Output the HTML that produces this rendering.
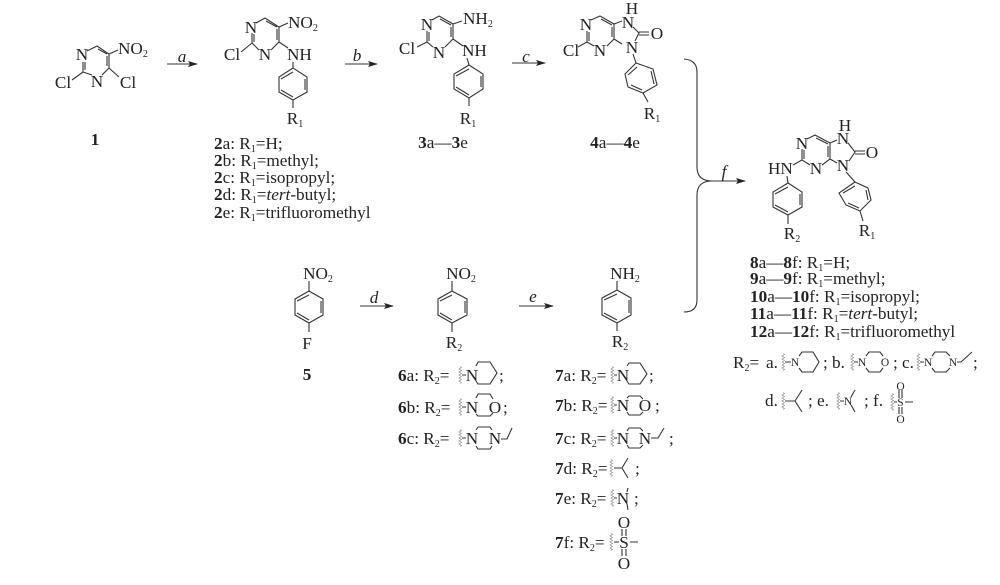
<!DOCTYPE html>
<html><head><meta charset="utf-8"><style>
html,body{margin:0;padding:0;background:#fff}
svg{display:block;filter:blur(.35px)}
text{font-family:"Liberation Serif",serif;font-size:17.2px;fill:#222}
.m{text-anchor:middle}
.b{font-weight:bold}
.s{font-size:10px}
.i{font-style:italic}
.sm{font-size:11.5px}
.l{fill:none;stroke:#333;stroke-width:1.1}
.w{fill:none;stroke:#888;stroke-width:.7}
</style></head><body>
<svg width="1000" height="585" viewBox="0 0 1000 585" xmlns="http://www.w3.org/2000/svg">
<defs>
<path id="wv" class="w" d="M0-8.500l1.500 1-2.500 1.500 2.500 1.500-2.500 1.500 2.500 1.500-2.500 1.500 2.500 1.500-2.500 1.500 2.500 1.500-2.500 1.500 2.500 1.500-1.500 1"/>
<marker id="ah" markerWidth="10" markerHeight="6" refX="9" refY="3" orient="auto" markerUnits="userSpaceOnUse"><path d="M0 0L10 3L0 6L2 3z" fill="#222"/></marker>
</defs>

<!-- compound 1 -->
<path class="l" d="M87 51L97 46L109 54V68L102 75M92 75L83 72V62M85 62V70M98 49L107 54M107 56V66M83 72L72 80M109 68L119 77M109 54L118 50"/>
<text class="m" x="82" y="60">N</text><text class="m" x="97" y="87">N</text>
<text x="118" y="54">NO<tspan class="s" dy="3">2</tspan></text>
<text class="m" x="63" y="88">Cl</text><text class="m" x="128" y="88">Cl</text>
<text class="m b" x="95" y="145">1</text>

<path class="l" d="M167 64H197" marker-end="url(#ah)"/><text class="m i" x="182" y="62">a</text>

<!-- compound 2 -->
<path class="l" d="M256 23L265 18L279 27V42L271 50M259 50L252 43V33M254 34V42M266 21L277 27M277 29V40M252 43L241 52M279 42L288 48M279 27L288 23"/>
<text class="m" x="251" y="33">N</text><text class="m" x="265" y="60">N</text>
<text x="288" y="28">NO<tspan class="s" dy="3">2</tspan></text>
<text class="m" x="232" y="60">Cl</text><text x="287" y="60">NH</text>
<path class="l" d="M293 62V68L307 77V92L293 100L279 92V77L293 68M281 79L293 72M305 79V90M281 90L293 97M293 100V108"/>
<text class="m" x="295" y="124">R<tspan class="s" dy="3">1</tspan></text>
<text x="214" y="149"><tspan class="b">2</tspan>a: R<tspan class="s" dy="3">1</tspan><tspan dy="-3">=H;</tspan></text>
<text x="214" y="166"><tspan class="b">2</tspan>b: R<tspan class="s" dy="3">1</tspan><tspan dy="-3">=methyl;</tspan></text>
<text x="214" y="183"><tspan class="b">2</tspan>c: R<tspan class="s" dy="3">1</tspan><tspan dy="-3">=isopropyl;</tspan></text>
<text x="214" y="200"><tspan class="b">2</tspan>d: R<tspan class="s" dy="3">1</tspan><tspan dy="-3">=</tspan><tspan class="i">tert</tspan>-butyl;</text>
<text x="214" y="218"><tspan class="b">2</tspan>e: R<tspan class="s" dy="3">1</tspan><tspan dy="-3">=trifluoromethyl</tspan></text>

<path class="l" d="M345 64H377" marker-end="url(#ah)"/><text class="m i" x="357" y="61">b</text>

<!-- compound 3 -->
<path class="l" d="M432 20L439 16L453 24V39L445 47M433 47L427 42V31M429 32V41M440 19L451 25M451 27V37M427 42L417 47M453 39L463 46M453 24L462 21"/>
<text class="m" x="427" y="30">N</text><text class="m" x="439" y="58">N</text>
<text x="463" y="24">NH<tspan class="s" dy="3">2</tspan></text>
<text class="m" x="407" y="54">Cl</text><text x="462" y="56">NH</text>
<path class="l" d="M467 58L469 65L483 74V89L469 98L454 89V74L469 65M456 76L469 69M481 76V87M456 87L469 95M469 98V106"/>
<text class="m" x="468" y="124">R<tspan class="s" dy="3">1</tspan></text>
<text class="m" x="443" y="148"><tspan class="b">3</tspan>a—<tspan class="b">3</tspan>e</text>

<path class="l" d="M512 63H545" marker-end="url(#ah)"/><text class="m i" x="526" y="62">c</text>

<!-- compound 4 -->
<path class="l" d="M591 20L600 16L614 24V39L607 46M594 46L587 42V31M589 32V41M601 19L612 25M612 27V37M587 42L578 47M614 24L622 21M614 39L622 44M633 27L639 33L635 41M639 32H649M639 35H649"/>
<text class="m" x="586" y="30">N</text><text class="m" x="600" y="56">N</text>
<text class="m" x="628" y="28">N</text><text class="m" x="632" y="14">H</text>
<text class="m" x="632" y="53">N</text><text class="m" x="657" y="39">O</text>
<text class="m" x="571" y="56">Cl</text>
<path class="l" d="M633 54L636 63L653 69L657 85L643 93L628 87L625 74L636 63M637 67L628 75M651 71L654 84M631 85L642 90M643 93L648 102"/>
<text class="m" x="652" y="119">R<tspan class="s" dy="3">1</tspan></text>
<text class="m" x="615" y="148"><tspan class="b">4</tspan>a—<tspan class="b">4</tspan>e</text>

<!-- brace -->
<path class="l" d="M684 59Q697 60 697 72V167Q697 181 712 181Q697 181 697 195V300Q697 312 684 312"/>
<path class="l" d="M712 181H745" marker-end="url(#ah)"/><text class="m i" x="724" y="177">f</text>

<!-- compound 8 -->
<path class="l" d="M807 139L815 135L830 143V159L822 165M810 165L802 160V149M804 150V159M816 138L828 144M828 146V157M802 160L793 165M830 143L837 140M830 159L837 163M848 143L855 152L849 161M855 151H865M855 154H865"/>
<text class="m" x="802" y="149">N</text><text class="m" x="816" y="174">N</text>
<text class="m" x="843" y="144">N</text><text class="m" x="845" y="131">H</text>
<text class="m" x="843" y="171">N</text><text class="m" x="872" y="158">O</text>
<text x="768" y="174">HN</text>
<path class="l" d="M787 176L788 183L802 192V207L788 215L773 207V192L788 183M775 194L788 187M800 194V205M775 205L788 212M788 215V224"/>
<text class="m" x="792" y="239">R<tspan class="s" dy="3">2</tspan></text>
<path class="l" d="M846 172L855 182L868 188L871 200L860 211L846 205L839 193L855 182M855 186L843 193M866 190L868 200M848 203L859 208M860 211L863 221"/>
<text class="m" x="867" y="236">R<tspan class="s" dy="3">1</tspan></text>
<text x="750" y="268"><tspan class="b">8</tspan>a—<tspan class="b">8</tspan>f: R<tspan class="s" dy="3">1</tspan><tspan dy="-3">=H;</tspan></text>
<text x="750" y="284"><tspan class="b">9</tspan>a—<tspan class="b">9</tspan>f: R<tspan class="s" dy="3">1</tspan><tspan dy="-3">=methyl;</tspan></text>
<text x="750" y="302"><tspan class="b">10</tspan>a—<tspan class="b">10</tspan>f: R<tspan class="s" dy="3">1</tspan><tspan dy="-3">=isopropyl;</tspan></text>
<text x="750" y="319"><tspan class="b">11</tspan>a—<tspan class="b">11</tspan>f: R<tspan class="s" dy="3">1</tspan><tspan dy="-3">=</tspan><tspan class="i">tert</tspan>-butyl;</text>
<text x="750" y="337"><tspan class="b">12</tspan>a—<tspan class="b">12</tspan>f: R<tspan class="s" dy="3">1</tspan><tspan dy="-3">=trifluoromethyl</tspan></text>

<!-- R2 definitions, right -->
<text x="733" y="368">R<tspan class="s" dy="3">2</tspan><tspan dy="-3">=</tspan></text>
<text x="766" y="368">a.</text>
<use href="#wv" x="783" y="362"/><path class="l" d="M785 362H791M799 356L802 352H813L819 362L813 372H802L799 368"/>
<text class="m sm" x="795" y="366">N</text>
<text x="823" y="368">;</text>
<text x="832" y="368">b.</text>
<use href="#wv" x="852" y="362"/><path class="l" d="M854 362H858M866 356L869 352H880L883 356M883 368L880 372H869L866 368"/>
<text class="m sm" x="862" y="366">N</text><text class="m sm" x="885" y="366">O</text>
<text x="893" y="368">;</text>
<text x="902" y="368">c.</text>
<use href="#wv" x="918" y="362"/><path class="l" d="M920 362H924M932 356L935 352H946L950 356M932 368L935 372H946L950 368M957 362H961L972 352"/>
<text class="m sm" x="928" y="366">N</text><text class="m sm" x="953" y="366">N</text>
<text x="973" y="368">;</text>

<text x="765" y="406">d.</text>
<use href="#wv" x="783" y="401"/><path class="l" d="M785 401H795L802 390M795 401L802 412"/>
<text x="808" y="406">;</text>
<text x="817" y="406">e.</text>
<use href="#wv" x="838" y="401"/><path class="l" d="M840 401H844M851 397L855 390M851 405L855 412"/>
<text class="m sm" x="848" y="405">N</text>
<text x="864" y="406">;</text>
<text x="873" y="406">f.</text>
<use href="#wv" x="892" y="402"/><path class="l" d="M894 402H897M899 390V398M902 390V398M899 407V414M902 407V414M905 402H913"/>
<text class="m sm" x="900.500" y="406">S</text><text class="m sm" x="900.500" y="390">O</text><text class="m sm" x="900.500" y="423">O</text>

<!-- compound 5 -->
<text class="m" x="318" y="279">NO<tspan class="s" dy="3">2</tspan></text>
<path class="l" d="M309 281V291L323 299V315L309 323L295 315V299L309 291M297 301L309 295M321 301V313M297 313L309 320M309 323V332"/>
<text class="m" x="307" y="349">F</text>
<text class="m b" x="307" y="380">5</text>
<path class="l" d="M360 306H393" marker-end="url(#ah)"/><text class="m i" x="374" y="303">d</text>

<!-- compound 6 -->
<text class="m" x="461" y="279">NO<tspan class="s" dy="3">2</tspan></text>
<path class="l" d="M452 281V291L467 299V315L452 323L438 315V299L452 291M440 301L452 295M465 301V313M440 313L452 320M452 323V332"/>
<text class="m" x="454" y="348">R<tspan class="s" dy="3">2</tspan></text>

<text x="398" y="381"><tspan class="b">6</tspan>a: R<tspan class="s" dy="3">2</tspan><tspan dy="-3">=</tspan></text>
<use href="#wv" x="460" y="375"/><path class="l" d="M462 375H466M476 366L478 362H490L497 373L490 384H478L476 381"/>
<text class="m" x="472" y="381">N</text><text x="499" y="381">;</text>

<text x="398" y="413"><tspan class="b">6</tspan>b: R<tspan class="s" dy="3">2</tspan><tspan dy="-3">=</tspan></text>
<use href="#wv" x="460" y="407"/><path class="l" d="M462 407H466M476 398L478 394H490L493 399M476 414L478 416H490L493 413"/>
<text class="m" x="472" y="413">N</text><text class="m" x="495" y="413">O</text><text x="503" y="413">;</text>

<text x="398" y="444"><tspan class="b">6</tspan>c: R<tspan class="s" dy="3">2</tspan><tspan dy="-3">=</tspan></text>
<use href="#wv" x="460" y="438"/><path class="l" d="M462 438H466M476 430L478 427H490L492 430M476 446L478 449H490L492 446M501 439H507L512 428"/>
<text class="m" x="472" y="444">N</text><text class="m" x="495" y="444">N</text>

<path class="l" d="M519 306H553" marker-end="url(#ah)"/><text class="m i" x="533" y="302">e</text>

<!-- compound 7 -->
<text class="m" x="625" y="279">NH<tspan class="s" dy="3">2</tspan></text>
<path class="l" d="M617 281V290L631 298V315L617 323L602 315V298L617 290M604 300L617 294M629 300V313M604 313L617 320M617 323V331"/>
<text class="m" x="620" y="347">R<tspan class="s" dy="3">2</tspan></text>

<text x="555" y="381"><tspan class="b">7</tspan>a: R<tspan class="s" dy="3">2</tspan><tspan dy="-3">=</tspan></text>
<use href="#wv" x="612" y="375"/><path class="l" d="M614 375H617M627 366L629 363H640L647 374L640 384H629L627 381"/>
<text class="m" x="623" y="381">N</text><text x="649" y="381">;</text>

<text x="555" y="411"><tspan class="b">7</tspan>b: R<tspan class="s" dy="3">2</tspan><tspan dy="-3">=</tspan></text>
<use href="#wv" x="612" y="405"/><path class="l" d="M614 405H617M627 398L629 396H640L643 399M627 412L629 415H640L643 412"/>
<text class="m" x="623" y="411">N</text><text class="m" x="645" y="411">O</text><text x="655" y="411">;</text>

<text x="555" y="444"><tspan class="b">7</tspan>c: R<tspan class="s" dy="3">2</tspan><tspan dy="-3">=</tspan></text>
<use href="#wv" x="612" y="438"/><path class="l" d="M614 438H617M627 431L629 428H640L643 431M627 445L629 448H640L643 445M651 438H658L664 428"/>
<text class="m" x="623" y="444">N</text><text class="m" x="645" y="444">N</text><text x="669" y="444">;</text>

<text x="555" y="474"><tspan class="b">7</tspan>d: R<tspan class="s" dy="3">2</tspan><tspan dy="-3">=</tspan></text>
<use href="#wv" x="611" y="468"/><path class="l" d="M614 468H622L628 458M622 468L628 478"/>
<text x="635" y="474">;</text>

<text x="555" y="504"><tspan class="b">7</tspan>e: R<tspan class="s" dy="3">2</tspan><tspan dy="-3">=</tspan></text>
<use href="#wv" x="612" y="498"/><path class="l" d="M614 498H617M627 492L628 488M627 504L628 510"/>
<text class="m" x="623" y="504">N</text><text x="634" y="504">;</text>

<text x="555" y="548"><tspan class="b">7</tspan>f: R<tspan class="s" dy="3">2</tspan><tspan dy="-3">=</tspan></text>
<use href="#wv" x="611" y="542"/><path class="l" d="M614 542H619M622 529V536M626 529V536M622 549V556M626 549V556M630 542H638"/>
<text class="m" x="624" y="548">S</text><text class="m" x="624" y="528">O</text><text class="m" x="624" y="569">O</text>
</svg>
</body></html>
